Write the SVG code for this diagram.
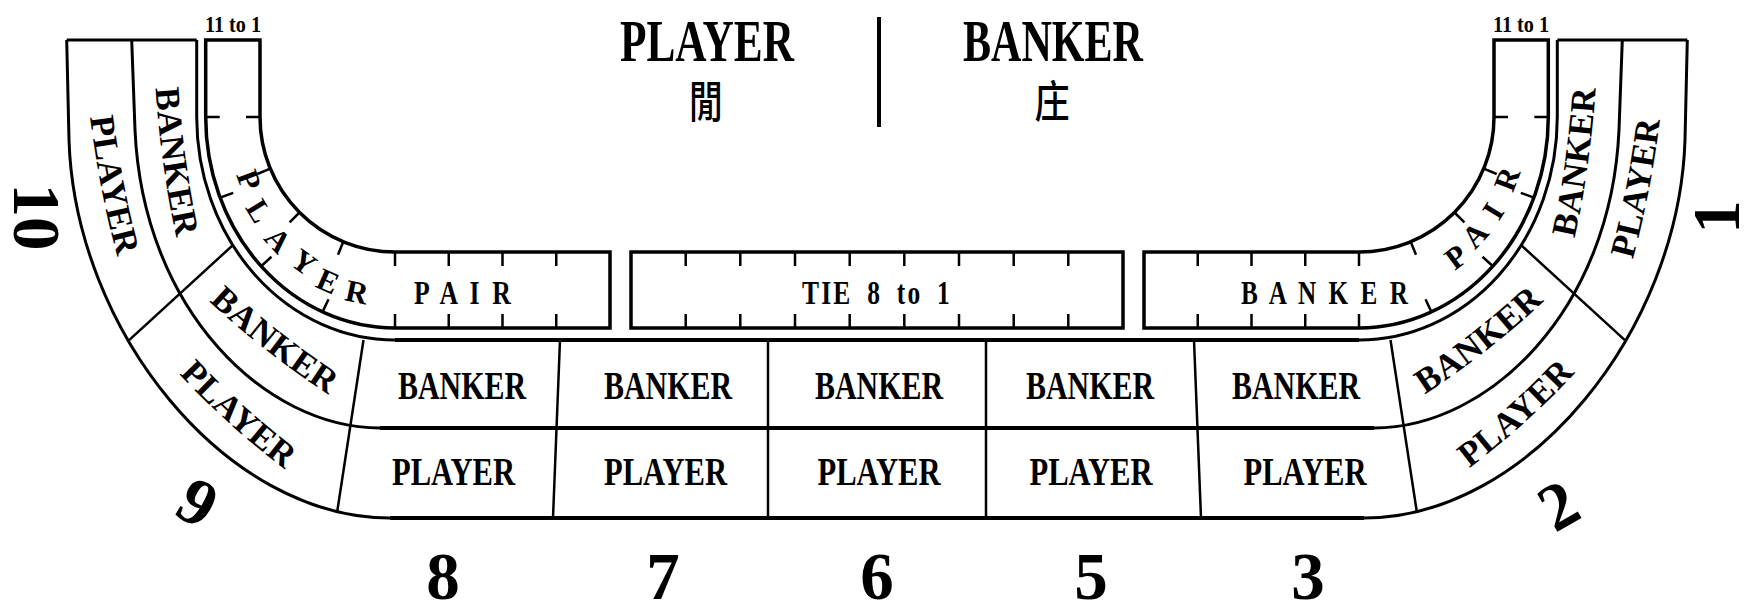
<svg xmlns="http://www.w3.org/2000/svg" width="1745" height="610" viewBox="0 0 1745 610">
<style>
.ln{fill:none;stroke:#000;stroke-width:3;stroke-linejoin:round}
.hv{fill:none;stroke:#000;stroke-width:4}
.dv{fill:none;stroke:#000;stroke-width:2.5}
.bx{fill:none;stroke:#000;stroke-width:3.5}
.tk{fill:none;stroke:#000;stroke-width:2.5}
text{font-family:"Liberation Serif","Times New Roman",serif;font-weight:bold;fill:#000}
.hd{font-size:60px}
.cjk{font-family:"Noto Sans CJK TC","Noto Sans CJK SC",sans-serif;font-weight:500;font-size:44px}
.cell{font-size:41px}
.ring{font-size:35px}
.num{font-size:67px}
.odds{font-size:23px}
.pair{font-size:33px;letter-spacing:4px}
.arc{font-size:31px}
</style>
<defs>
<g id="half">
 <path class="ln" d="M66.7,40 L69,140 C75,330 225,518 390,518"/>
 <path class="ln" d="M131.7,40 L135,130 C143,310 265,428 380,428"/>
 <path class="ln" d="M196.7,40 L196.7,117 A198.3,223 0 0 0 395,340"/>
 <path class="ln" d="M66.7,40 H196.7"/>
 <path class="dv" d="M232.5,245.5 L128.3,340.8 M363.5,340 L337,513 M560,340 L553,518 M768,340 V518"/>
 <path class="bx" d="M205.7,40 H260 V117 A135,135 0 0 0 395,252 H610 V328 H395 A189.3,211 0 0 1 205.7,117 Z"/>
 <path class="tk" d="M260,117 H246 M270.3,168.7 L257.3,174 M299.5,212.5 L289.6,222.4 M343.3,241.7 L338,254.7 M395,252 V266 M448.75,252 V266 M502.5,252 V266 M556.25,252 V266 M205.7,117 H219.7 M220.1,197.7 L233.2,192.8 M261.1,266.2 L271.5,256.8 M322.6,311.9 L328.5,299.2 M395,328 V314 M448.75,328 V314 M502.5,328 V314 M556.25,328 V314"/>
</g>
<path id="pR10P" d="M98.8,85.8 Q108.1,186 137,282.2"/>
<path id="pR10B" d="M166.1,61.8 Q170,162.2 193.9,259.8"/>
<path id="pR9B" d="M198.9,274.7 Q270.3,345.7 356.5,397.9"/>
<path id="pR9P" d="M167.7,343.6 Q234,419.5 316.3,477.4"/>
<path id="pR1P" d="M1613,285.2 Q1641.9,189 1651.2,88.8"/>
<path id="pR1B" d="M1557.1,260.3 Q1581,162.7 1584.9,62.3"/>
<path id="pR2B" d="M1396.5,397.9 Q1482.7,345.7 1554.1,274.7"/>
<path id="pR2P" d="M1437.7,476.4 Q1520,418.5 1586.3,342.6"/>
</defs>

<g id="table-left"><use href="#half"/></g>
<g id="table-right"><use href="#half" transform="translate(1754,0) scale(-1,1)"/></g>

<g id="rows">
 <path class="hv" d="M395,340 H1359 M380,428 H1374 M390,518 H1364"/>
</g>

<g id="tie">
 <rect class="bx" x="631" y="252" width="492" height="76"/>
 <path class="tk" d="M685.7,252 v14 M740.3,252 v14 M795,252 v14 M849.7,252 v14 M904.3,252 v14 M959,252 v14 M1013.7,252 v14 M1068.3,252 v14 M685.7,328 v-14 M740.3,328 v-14 M795,328 v-14 M849.7,328 v-14 M904.3,328 v-14 M959,328 v-14 M1013.7,328 v-14 M1068.3,328 v-14"/>
 <text x="877" y="304" font-size="34" text-anchor="middle" letter-spacing="3" word-spacing="8" textLength="150" lengthAdjust="spacingAndGlyphs">TIE 8 to 1</text>
</g>

<g id="header">
 <text class="hd" x="707" y="61" text-anchor="middle" textLength="174" lengthAdjust="spacingAndGlyphs">PLAYER</text>
 <text class="hd" x="1053" y="61" text-anchor="middle" textLength="180" lengthAdjust="spacingAndGlyphs">BANKER</text>
 <text class="cjk" transform="translate(706,118) scale(0.78,1)" text-anchor="middle">閒</text>
 <text class="cjk" transform="translate(1052,118) scale(0.8,1)" text-anchor="middle">庄</text>
 <path d="M879,17 V127" stroke="#000" stroke-width="4"/>
</g>

<g id="player-pair">
 <text class="odds" x="233" y="32" text-anchor="middle" textLength="56" lengthAdjust="spacingAndGlyphs">11 to 1</text>
 <text class="arc" text-anchor="middle" dominant-baseline="central" transform="translate(249,180) rotate(70)">P</text>
 <text class="arc" text-anchor="middle" dominant-baseline="central" transform="translate(259,211) rotate(59)">L</text>
 <text class="arc" text-anchor="middle" dominant-baseline="central" transform="translate(278,240) rotate(47)">A</text>
 <text class="arc" text-anchor="middle" dominant-baseline="central" transform="translate(304,262) rotate(36)">Y</text>
 <text class="arc" text-anchor="middle" dominant-baseline="central" transform="translate(328,281) rotate(24)">E</text>
 <text class="arc" text-anchor="middle" dominant-baseline="central" transform="translate(357,292) rotate(12)">R</text>
 <text class="pair" x="464" y="304" text-anchor="middle" textLength="100" lengthAdjust="spacingAndGlyphs">P A I R</text>
</g>

<g id="banker-pair">
 <text class="odds" x="1521" y="32" text-anchor="middle" textLength="56" lengthAdjust="spacingAndGlyphs">11 to 1</text>
 <text class="pair" x="1326" y="304" text-anchor="middle" textLength="170" lengthAdjust="spacingAndGlyphs">B A N K E R</text>
 <text class="arc" text-anchor="middle" dominant-baseline="central" transform="translate(1456,257) rotate(-37)">P</text>
 <text class="arc" text-anchor="middle" dominant-baseline="central" transform="translate(1475,235) rotate(-47)">A</text>
 <text class="arc" text-anchor="middle" dominant-baseline="central" transform="translate(1493,211) rotate(-58)">I</text>
 <text class="arc" text-anchor="middle" dominant-baseline="central" transform="translate(1507,179) rotate(-69)">R</text>
</g>

<g id="seat-10">
 <text class="ring" dominant-baseline="central"><textPath href="#pR10P" startOffset="50%" text-anchor="middle">PLAYER</textPath></text>
 <text class="ring" dominant-baseline="central"><textPath href="#pR10B" startOffset="50%" text-anchor="middle">BANKER</textPath></text>
 <text class="num" text-anchor="middle" dominant-baseline="central" transform="translate(37,217) rotate(90)">10</text>
</g>
<g id="seat-9">
 <text class="ring" dominant-baseline="central"><textPath href="#pR9B" startOffset="50%" text-anchor="middle">BANKER</textPath></text>
 <text class="ring" dominant-baseline="central"><textPath href="#pR9P" startOffset="50%" text-anchor="middle">PLAYER</textPath></text>
 <text class="num" text-anchor="middle" dominant-baseline="central" transform="translate(198,502) rotate(30)">9</text>
</g>
<g id="seat-1">
 <text class="ring" dominant-baseline="central"><textPath href="#pR1P" startOffset="50%" text-anchor="middle">PLAYER</textPath></text>
 <text class="ring" dominant-baseline="central"><textPath href="#pR1B" startOffset="50%" text-anchor="middle">BANKER</textPath></text>
 <text class="num" text-anchor="middle" dominant-baseline="central" transform="translate(1716,217) rotate(-90)">1</text>
</g>
<g id="seat-2">
 <text class="ring" dominant-baseline="central"><textPath href="#pR2B" startOffset="50%" text-anchor="middle">BANKER</textPath></text>
 <text class="ring" dominant-baseline="central"><textPath href="#pR2P" startOffset="50%" text-anchor="middle">PLAYER</textPath></text>
 <text class="num" text-anchor="middle" dominant-baseline="central" transform="translate(1558,505) rotate(-30)">2</text>
</g>

<g id="seat-8">
 <text class="cell" x="462" y="399" text-anchor="middle" textLength="128" lengthAdjust="spacingAndGlyphs">BANKER</text>
 <text class="cell" x="453.5" y="485" text-anchor="middle" textLength="123" lengthAdjust="spacingAndGlyphs">PLAYER</text>
 <text class="num" x="443" y="599" text-anchor="middle">8</text>
</g>
<g id="seat-7">
 <text class="cell" x="668" y="399" text-anchor="middle" textLength="128" lengthAdjust="spacingAndGlyphs">BANKER</text>
 <text class="cell" x="665.5" y="485" text-anchor="middle" textLength="123" lengthAdjust="spacingAndGlyphs">PLAYER</text>
 <text class="num" x="663" y="599" text-anchor="middle">7</text>
</g>
<g id="seat-6">
 <text class="cell" x="879" y="399" text-anchor="middle" textLength="128" lengthAdjust="spacingAndGlyphs">BANKER</text>
 <text class="cell" x="879" y="485" text-anchor="middle" textLength="123" lengthAdjust="spacingAndGlyphs">PLAYER</text>
 <text class="num" x="877" y="599" text-anchor="middle">6</text>
</g>
<g id="seat-5">
 <text class="cell" x="1090" y="399" text-anchor="middle" textLength="128" lengthAdjust="spacingAndGlyphs">BANKER</text>
 <text class="cell" x="1091" y="485" text-anchor="middle" textLength="123" lengthAdjust="spacingAndGlyphs">PLAYER</text>
 <text class="num" x="1091" y="599" text-anchor="middle">5</text>
</g>
<g id="seat-3">
 <text class="cell" x="1296" y="399" text-anchor="middle" textLength="128" lengthAdjust="spacingAndGlyphs">BANKER</text>
 <text class="cell" x="1305" y="485" text-anchor="middle" textLength="123" lengthAdjust="spacingAndGlyphs">PLAYER</text>
 <text class="num" x="1308" y="599" text-anchor="middle">3</text>
</g>
</svg>
